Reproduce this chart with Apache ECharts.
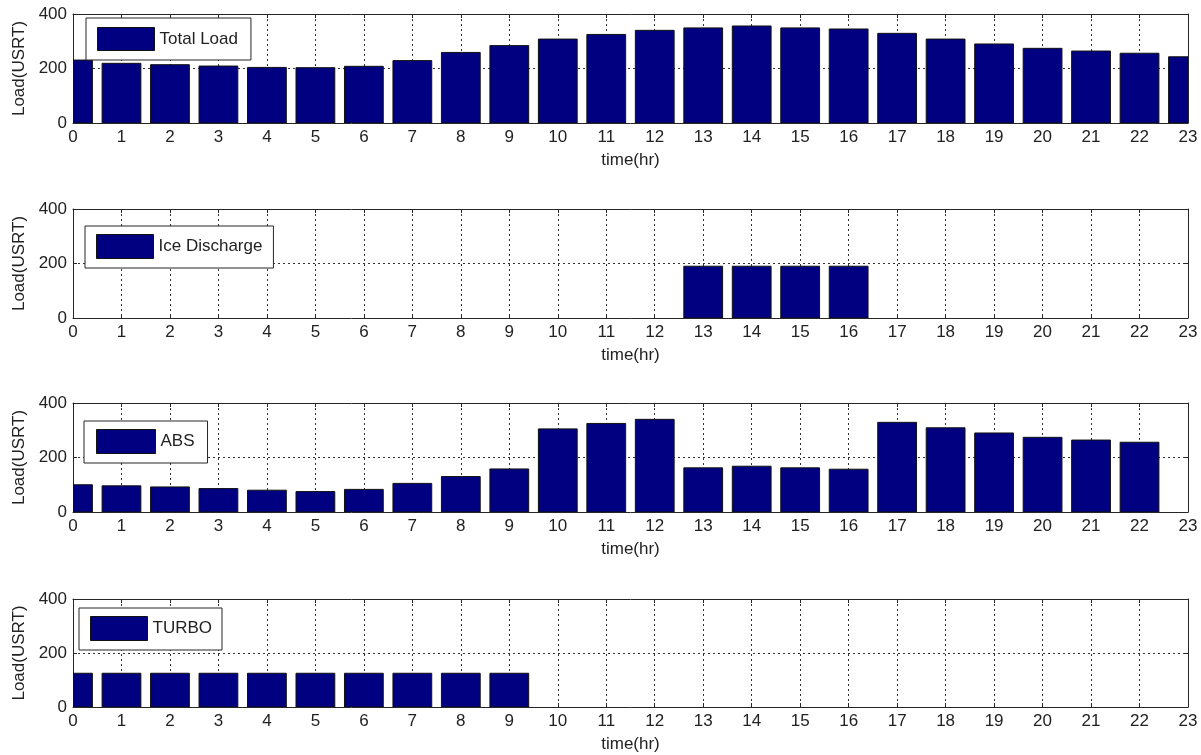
<!DOCTYPE html>
<html>
<head>
<meta charset="utf-8">
<script src="https://cdn.jsdelivr.net/npm/echarts@6/dist/echarts.min.js"></script>
<style>
html,body{margin:0;padding:0;background:#fff;}
#chart{width:1201px;height:755px;}
</style>
</head>
<body>
<div id="chart"></div>
<script>
// ---- data ----
const hours = [0,1,2,3,4,5,6,7,8,9,10,11,12,13,14,15,16,17,18,19,20,21,22,23];
const totalLoad    = [231,219,214,209,204,203,208,229,259,284,308,325,340,349,356,349,345,329,308,290,274,264,256,243];
const iceDischarge = [0,0,0,0,0,0,0,0,0,0,0,0,0,190,190,190,190,0,0,0,0,0,0,0];
const absLoad      = [100,96,92,86,80,75,83,105,130,158,305,325,340,162,168,162,157,329,309,290,274,264,256,0];
const turboLoad    = [125,125,125,125,125,125,125,125,125,125,0,0,0,0,0,0,0,0,0,0,0,0,0,0];
const yTicks = [0,200,400];
const seriesNames = ['Total Load','Ice Discharge','ABS','TURBO'];
const seriesData = [totalLoad, iceDischarge, absLoad, turboLoad];

// ---- layout ----
const FONT = 'Liberation Sans, Arial, sans-serif';
const FS = 17;
const TXT = '#222';
const LINE = '#262626';
const BAR = '#000080';
const BAR_EDGE = '#111';
const gridLeft = 73, gridWidth = 1115;
const gridTops = [14, 209, 403, 599];
const gridHeights = [109, 109, 109, 108];
const legendCfg = [
  {left:86, top:18,  padding:[9,13,9,11],  itemWidth:57, itemHeight:23},
  {left:85, top:226, padding:[8,11,9,11],  itemWidth:57, itemHeight:24},
  {left:84, top:421, padding:[8,13,9,12],  itemWidth:59, itemHeight:24},
  {left:79, top:608, padding:[8,10,9,11],  itemWidth:57, itemHeight:24}
];
const xMin = hours[0], xMax = hours[hours.length-1];
const BAR_FRACTION = 0.8;
const dotted = {color:'#333', width:1, type:[2,3]};

function renderBar(params, api) {
  const x = api.value(0), y = api.value(1);
  if (!y) return null;
  const base = api.coord([x, 0]);
  const top = api.coord([x, y]);
  const w = api.size([BAR_FRACTION, 0])[0];
  const rect = echarts.graphic.clipRectByRect(
    {x: base[0] - w / 2, y: top[1], width: w, height: base[1] - top[1]},
    {x: params.coordSys.x, y: params.coordSys.y, width: params.coordSys.width, height: params.coordSys.height}
  );
  if (!rect) return null;
  return {
    type:'rect', shape:rect,
    style:{fill:BAR, stroke:BAR_EDGE, lineWidth:1}
  };
}

const grid = [], xAxis = [], yAxis = [], series = [], legend = [];
for (let i = 0; i < 4; i++) {
  grid.push({left:gridLeft, width:gridWidth, top:gridTops[i], height:gridHeights[i], containLabel:false});
  xAxis.push({
    type:'value', gridIndex:i, min:xMin, max:xMax, interval:1, position:'bottom',
    name:'time(hr)', nameLocation:'middle', nameGap:29,
    nameTextStyle:{fontFamily:FONT, fontSize:FS, color:TXT},
    axisLine:{show:true, onZero:false, lineStyle:{color:LINE, width:1}},
    axisTick:{show:true, inside:true, length:4, lineStyle:{color:LINE}},
    axisLabel:{show:true, margin:6, fontFamily:FONT, fontSize:FS, color:TXT, showMinLabel:true, showMaxLabel:true},
    splitLine:{show:true, lineStyle:dotted}
  });
  xAxis.push({
    type:'value', gridIndex:i, min:xMin, max:xMax, interval:1, position:'top',
    axisLine:{show:true, onZero:false, lineStyle:{color:LINE, width:1}},
    axisTick:{show:true, inside:true, length:4, lineStyle:{color:LINE}},
    axisLabel:{show:false}, splitLine:{show:false}
  });
  yAxis.push({
    type:'value', gridIndex:i, min:yTicks[0], max:yTicks[yTicks.length-1], interval:yTicks[1]-yTicks[0], position:'left',
    name:'Load(USRT)', nameLocation:'middle', nameGap:45, nameRotate:90,
    nameTextStyle:{fontFamily:FONT, fontSize:FS, color:TXT},
    axisLine:{show:true, onZero:false, lineStyle:{color:LINE, width:1}},
    axisTick:{show:true, inside:true, length:4, lineStyle:{color:LINE}},
    axisLabel:{show:true, margin:6, fontFamily:FONT, fontSize:FS, color:TXT},
    splitLine:{show:true, lineStyle:dotted}
  });
  yAxis.push({
    type:'value', gridIndex:i, min:yTicks[0], max:yTicks[yTicks.length-1], interval:yTicks[1]-yTicks[0], position:'right',
    axisLine:{show:true, onZero:false, lineStyle:{color:LINE, width:1}},
    axisTick:{show:true, inside:true, length:4, lineStyle:{color:LINE}},
    axisLabel:{show:false}, splitLine:{show:false}
  });
  series.push({
    type:'custom', name:seriesNames[i], xAxisIndex:2*i, yAxisIndex:2*i,
    data: hours.map((h, k) => [h, seriesData[i][k]]),
    encode:{x:0, y:1},
    renderItem: renderBar,
    itemStyle:{color:BAR, borderColor:BAR_EDGE, borderWidth:1},
    clip:true, silent:true, animation:false
  });
  const lc = legendCfg[i];
  legend.push({
    data:[seriesNames[i]], left:lc.left, top:lc.top, padding:lc.padding,
    itemWidth:lc.itemWidth, itemHeight:lc.itemHeight, icon:'rect',
    itemStyle:{color:BAR, borderColor:BAR_EDGE, borderWidth:1},
    backgroundColor:'#fff', borderColor:LINE, borderWidth:1, borderRadius:0,
    selectedMode:false,
    textStyle:{fontFamily:FONT, fontSize:FS, color:TXT}
  });
}

const chart = echarts.init(document.getElementById('chart'), null, {renderer:'canvas'});
chart.setOption({
  animation:false,
  backgroundColor:'#fff',
  grid, xAxis, yAxis, series, legend
});
</script>
</body>
</html>
